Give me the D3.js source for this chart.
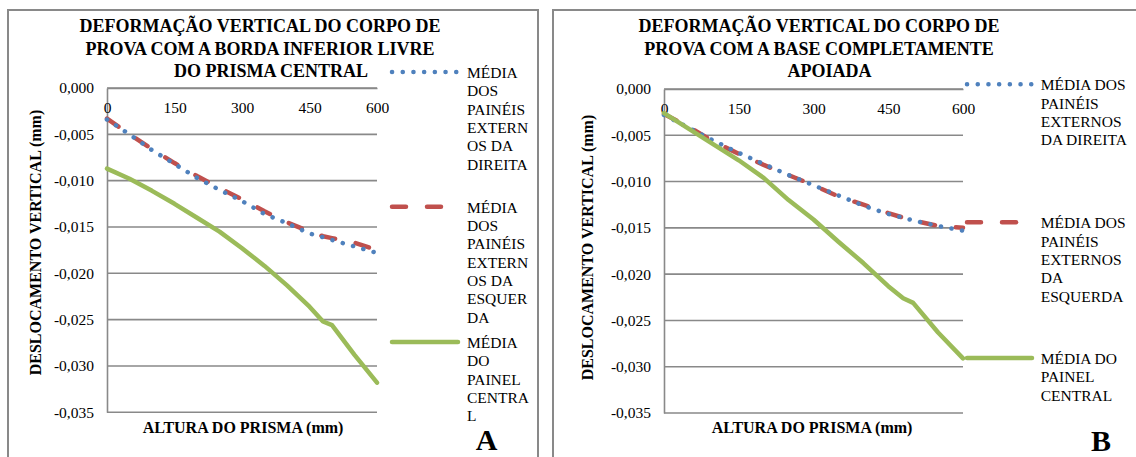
<!DOCTYPE html>
<html>
<head>
<meta charset="utf-8">
<script src="https://cdn.jsdelivr.net/npm/d3@7"></script>
</head>
<body style="margin:0;padding:0;background:#fff">
<svg id="chart" width="1136" height="457" style="display:block"></svg>
<script>
// Alturas de medição ao longo do prisma (mm)
const alturas = [0, 50, 100, 150, 200, 250, 300, 350, 400, 450, 480, 500, 550, 600];

// Ensaio A: borda inferior livre do prisma central — deslocamento vertical (mm)
const direitaA  = [-0.0034, -0.0050, -0.0067, -0.0082, -0.0097, -0.0110, -0.0122, -0.0136, -0.0146, -0.0157, -0.0161, -0.0164, -0.0171, -0.0178];
const esquerdaA = [-0.0033, -0.0050, -0.0066, -0.0081, -0.0095, -0.0108, -0.0120, -0.0133, -0.0145, -0.0155, -0.0160, -0.0162, -0.0167, -0.0175];
const centralA  = [-0.0087, -0.0098, -0.0111, -0.0125, -0.0140, -0.0155, -0.0173, -0.0192, -0.0213, -0.0236, -0.0252, -0.0256, -0.0288, -0.0318];

// Ensaio B: base completamente apoiada — deslocamento vertical (mm)
const direitaB  = [-0.0028, -0.0042, -0.0056, -0.0069, -0.0081, -0.0093, -0.0104, -0.0115, -0.0126, -0.0135, -0.0139, -0.0142, -0.0148, -0.0153];
const esquerdaB = [-0.0027, -0.0041, -0.0057, -0.0070, -0.0082, -0.0093, -0.0104, -0.0116, -0.0125, -0.0134, -0.0139, -0.0142, -0.0148, -0.0150];
const centralB  = [-0.0026, -0.0043, -0.0060, -0.0077, -0.0096, -0.0120, -0.0141, -0.0165, -0.0188, -0.0213, -0.0226, -0.0231, -0.0263, -0.0291];

// Marcações dos eixos
const ticksAltura = [0, 150, 300, 450, 600];
const ticksDeslocamento = [0, -0.005, -0.010, -0.015, -0.020, -0.025, -0.030, -0.035];

// Textos
const tituloA = ["DEFORMAÇÃO VERTICAL DO CORPO DE", "PROVA COM A BORDA INFERIOR LIVRE", "DO PRISMA CENTRAL"];
const tituloB = ["DEFORMAÇÃO VERTICAL DO CORPO DE", "PROVA COM A BASE COMPLETAMENTE", "APOIADA"];
const legendaA = [
  ["MÉDIA", "DOS", "PAINÉIS", "EXTERN", "OS DA", "DIREITA"],
  ["MÉDIA", "DOS", "PAINÉIS", "EXTERN", "OS DA", "ESQUER", "DA"],
  ["MÉDIA", "DO", "PAINEL", "CENTRA", "L"]
];
const legendaB = [
  ["MÉDIA DOS", "PAINÉIS", "EXTERNOS", "DA DIREITA"],
  ["MÉDIA DOS", "PAINÉIS", "EXTERNOS", "DA", "ESQUERDA"],
  ["MÉDIA DO", "PAINEL", "CENTRAL"]
];
const tituloEixoX = "ALTURA DO PRISMA (mm)";
const tituloEixoY = "DESLOCAMENTO VERTICAL (mm)";

// Estilos das séries
const estilos = [
  { cor: "#4F81BD", dash: "0.1,10.6" },   // pontilhado
  { cor: "#C0504D", dash: "14,21" },      // tracejado
  { cor: "#9BBB59", dash: null }          // contínuo
];
const ordemDesenho = [1, 0, 2];

const FONTE = "Liberation Serif";
const ptBR = d3.formatLocale({ decimal: ",", thousands: ".", grouping: [3], currency: ["R$", ""], minus: "-" });
const fmtY = ptBR.format(".3f");

const svg = d3.select("#chart");
const cinza = "#898989";

function texto(sel, tamanho, negrito) {
  return sel.style("font-family", FONTE)
    .style("font-size", tamanho + "px")
    .style("font-weight", negrito ? "bold" : "normal")
    .attr("fill", "#000");
}

function desenhaPainel(cfg) {
  const g = svg.append("g");

  // moldura
  g.append("rect")
    .attr("x", cfg.moldura[0]).attr("y", cfg.moldura[1])
    .attr("width", cfg.moldura[2]).attr("height", cfg.moldura[3])
    .attr("fill", "none").attr("stroke", cinza).attr("stroke-width", 2);

  const x = d3.scaleLinear().domain([0, 600]).range([cfg.area.x0, cfg.area.x1]);
  const y = d3.scaleLinear().domain([0, -0.035]).range([cfg.area.y0, cfg.area.y1]);

  // linhas de grade horizontais
  g.append("g").selectAll("line").data(ticksDeslocamento).join("line")
    .attr("x1", cfg.area.x0).attr("x2", cfg.area.x1)
    .attr("y1", d => y(d)).attr("y2", d => y(d))
    .attr("stroke", cinza).attr("stroke-width", 1.6);

  // eixo vertical
  const eixoY = g.append("g")
    .attr("transform", `translate(${cfg.area.x0},0)`)
    .call(d3.axisLeft(y).tickValues(ticksDeslocamento).tickSize(0).tickSizeOuter(0).tickPadding(13).tickFormat(fmtY));
  eixoY.select(".domain").attr("stroke", cinza).attr("stroke-width", 1.6);
  texto(eixoY.selectAll("text"), 15.5, false);

  // eixo horizontal (rótulos sob a linha do zero)
  const eixoX = g.append("g")
    .attr("transform", `translate(0,${cfg.area.y0})`)
    .call(d3.axisBottom(x).tickValues(ticksAltura).tickSize(0).tickSizeOuter(0).tickPadding(14).tickFormat(d3.format("d")));
  eixoX.select(".domain").attr("stroke", cinza).attr("stroke-width", 1.6);
  texto(eixoX.selectAll("text"), 15.5, false);

  // séries
  const linha = d3.line().x((d, i) => x(alturas[i])).y(d => y(d));
  ordemDesenho.forEach(k => {
    const s = estilos[k];
    g.append("path")
      .attr("d", linha(cfg.series[k]))
      .attr("fill", "none")
      .attr("stroke", s.cor)
      .attr("stroke-width", 4.5)
      .attr("stroke-linecap", "round")
      .attr("stroke-linejoin", "round")
      .attr("stroke-dasharray", s.dash);
  });

  // título
  texto(g.append("g").selectAll("text").data(cfg.titulo).join("text"), 18, true)
    .attr("x", (d, i) => cfg.tituloX[i])
    .attr("y", (d, i) => cfg.tituloY + i * 22.8)
    .attr("text-anchor", "middle")
    .text(d => d);

  // títulos dos eixos
  texto(g.append("text"), 16, true)
    .attr("x", cfg.eixoXpos[0]).attr("y", cfg.eixoXpos[1])
    .attr("text-anchor", "middle")
    .text(tituloEixoX);
  texto(g.append("text"), 16, true)
    .attr("transform", `translate(${cfg.eixoYpos[0]},${cfg.eixoYpos[1]}) rotate(-90)`)
    .attr("text-anchor", "middle")
    .text(tituloEixoY);

  // legenda
  cfg.legenda.forEach((linhas, k) => {
    const s = estilos[k];
    const ly = cfg.legY[k];
    g.append("line")
      .attr("x1", cfg.legX[0]).attr("x2", cfg.legX[1])
      .attr("y1", ly).attr("y2", ly)
      .attr("stroke", s.cor).attr("stroke-width", 4.5)
      .attr("stroke-linecap", "round")
      .attr("stroke-dasharray", s.dash);
    texto(g.append("g").selectAll("text").data(linhas).join("text"), 15.5, false)
      .attr("x", cfg.legX[2])
      .attr("y", (d, i) => ly + 6 + i * 18.3)
      .text(d => d);
  });

  // letra do painel
  texto(g.append("text"), 30, true)
    .attr("x", cfg.letraPos[0]).attr("y", cfg.letraPos[1])
    .attr("text-anchor", "middle")
    .text(cfg.letra);
}

desenhaPainel({
  moldura: [8, 10, 530, 460],
  area: { x0: 107, x1: 377, y0: 88, y1: 412.3 },
  series: [direitaA, esquerdaA, centralA],
  titulo: tituloA, tituloX: [260, 260, 271], tituloY: 31.7,
  eixoXpos: [243, 433], eixoYpos: [41, 242.5],
  legenda: legendaA, legX: [392, 458, 467], legY: [72, 206.7, 342],
  letra: "A", letraPos: [486.5, 450]
});

desenhaPainel({
  moldura: [553, 10, 600, 460],
  area: { x0: 664, x1: 963, y0: 89, y1: 413 },
  series: [direitaB, esquerdaB, centralB],
  titulo: tituloB, tituloX: [819, 819, 829.5], tituloY: 31.7,
  eixoXpos: [812, 433], eixoYpos: [593, 247.5],
  legenda: legendaB, legX: [967, 1032, 1040.7], legY: [84.3, 222.3, 358],
  letra: "B", letraPos: [1101, 451]
});
</script>
</body>
</html>
